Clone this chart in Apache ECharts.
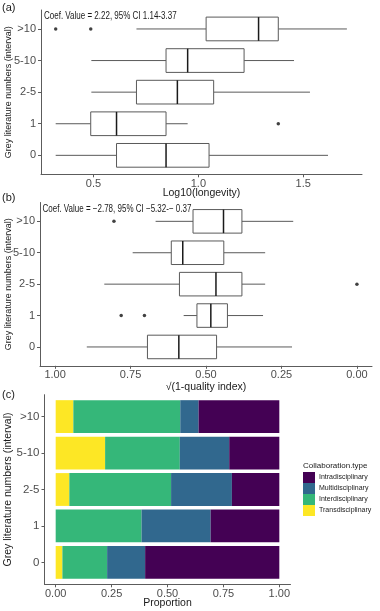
<!DOCTYPE html>
<html>
<head>
<meta charset="utf-8">
<script src="https://cdn.jsdelivr.net/npm/echarts@6/dist/echarts.min.js"></script>
<style>
  html, body { margin: 0; padding: 0; background: #fff; }
  #chart { width: 380px; height: 611px; }
</style>
</head>
<body>
<div id="chart"></div>
<script>
// grey literature groups, bottom to top
const groups = ['0', '1', '2-5', '5-10', '>10'];

// (a) Log10(longevity): [min, Q1, median, Q3, max] per group
const longevityBox = [
  [0.32, 0.61, 0.846, 1.051, 1.618],
  [0.32, 0.487, 0.61, 0.846, 0.949],
  [0.49, 0.705, 0.90, 1.073, 1.532],
  [0.49, 0.846, 0.949, 1.218, 1.456],
  [0.705, 1.037, 1.287, 1.381, 1.708]
];
// [value, group index]
const longevityOutliers = [[1.381, 1], [0.32, 4], [0.487, 4]];
const longevityTicks = [0.5, 1.0, 1.5];

// (b) sqrt(1 - quality index)
const qualityBox = [
  [0.215, 0.465, 0.59, 0.694, 0.895],
  [0.311, 0.429, 0.484, 0.53, 0.574],
  [0.304, 0.381, 0.467, 0.588, 0.837],
  [0.304, 0.441, 0.577, 0.615, 0.743],
  [0.211, 0.381, 0.442, 0.543, 0.667]
];
const qualityOutliers = [[0.704, 1], [0.781, 1], [0.0, 2], [0.805, 4]];
const qualityTicks = [0, 0.25, 0.5, 0.75, 1];

// (c) share of collaboration types, stacked from the left
const collabTypes = ['Transdisciplinary', 'Interdisciplinary', 'Multidisciplinary', 'Intradisciplinary'];
const transProp = [0.03, 0, 0.061, 0.221, 0.079];
const interProp = [0.20, 0.384, 0.455, 0.334, 0.478];
const multiProp = [0.17, 0.309, 0.272, 0.221, 0.082];
const intraProp = [0.60, 0.307, 0.212, 0.224, 0.361];
const proportionTicks = [0, 0.25, 0.5, 0.75, 1];

const collabColors = {
  Transdisciplinary: '#FDE725',
  Interdisciplinary: '#35B779',
  Multidisciplinary: '#31688E',
  Intradisciplinary: '#440154'
};

const FONT = "'Liberation Sans', Arial, sans-serif";
const AXIS_COLOR = '#5c5c5c';
const groupTicks = groups.map((g, i) => i);

// --- box drawing (ggplot style, no whisker caps) ---
const boxRender = (params, api) => {
  const g = api.value(0);
  const pMin = api.coord([api.value(1), g]);
  const pQ1 = api.coord([api.value(2), g]);
  const pMed = api.coord([api.value(3), g]);
  const pQ3 = api.coord([api.value(4), g]);
  const pMax = api.coord([api.value(5), g]);
  const half = api.size([0, 0.75])[1] / 2;
  const y = pMed[1];
  const lineStyle = { stroke: '#5a5a5a', lineWidth: 1 };
  return {
    type: 'group',
    children: [
      { type: 'line', shape: { x1: pMin[0], y1: y, x2: pQ1[0], y2: y }, style: lineStyle },
      { type: 'line', shape: { x1: pQ3[0], y1: y, x2: pMax[0], y2: y }, style: lineStyle },
      {
        type: 'rect',
        shape: { x: Math.min(pQ1[0], pQ3[0]), y: y - half, width: Math.abs(pQ3[0] - pQ1[0]), height: half * 2 },
        style: { fill: '#fff', stroke: '#5a5a5a', lineWidth: 1 }
      },
      { type: 'line', shape: { x1: pMed[0], y1: y - half, x2: pMed[0], y2: y + half }, style: { stroke: '#1a1a1a', lineWidth: 1.5 } }
    ]
  };
};

const barRender = (params, api) => {
  const g = api.value(0);
  const start = api.coord([api.value(1), g]);
  const end = api.coord([api.value(2), g]);
  const half = api.size([0, 0.9])[1] / 2;
  return {
    type: 'rect',
    shape: { x: start[0], y: start[1] - half, width: end[0] - start[0], height: half * 2 },
    style: { fill: api.visual('color') }
  };
};

// --- axes ---
const groupAxis = (gridIndex, nameGap, nameSize, labelSize) => ({
  type: 'value',
  gridIndex,
  min: -0.6,
  max: 4.6,
  name: 'Grey literature numbers (interval)',
  nameLocation: 'middle',
  nameRotate: 90,
  nameGap,
  nameMoveOverlap: false,
  nameTextStyle: { fontFamily: FONT, fontSize: nameSize, color: '#1a1a1a' },
  axisLine: { show: true, onZero: false, lineStyle: { color: AXIS_COLOR, width: 1 } },
  axisTick: { show: true, length: 3, customValues: groupTicks, lineStyle: { color: AXIS_COLOR } },
  axisLabel: {
    customValues: groupTicks,
    formatter: v => groups[Math.round(v)],
    margin: 5,
    fontFamily: FONT,
    fontSize: labelSize,
    color: '#4d4d4d'
  },
  splitLine: { show: false }
});

const valueAxis = (gridIndex, opts) => ({
  type: 'value',
  gridIndex,
  min: opts.min,
  max: opts.max,
  inverse: !!opts.inverse,
  name: opts.name,
  nameLocation: 'middle',
  nameGap: opts.nameGap,
  nameMoveOverlap: false,
  nameTextStyle: { fontFamily: FONT, fontSize: 10.5, color: '#1a1a1a' },
  axisLine: { show: true, onZero: false, lineStyle: { color: AXIS_COLOR, width: 1 } },
  axisTick: { show: true, length: 3, customValues: opts.ticks, lineStyle: { color: AXIS_COLOR } },
  axisLabel: {
    customValues: opts.ticks,
    formatter: v => v.toFixed(opts.digits),
    margin: 4,
    fontFamily: FONT,
    fontSize: 11,
    color: '#4d4d4d'
  },
  splitLine: { show: false }
});

// --- stacked bar data ---
const propSeries = [transProp, interProp, multiProp, intraProp];
const cumulative = groups.map(() => 0);
const barSeries = collabTypes.map((name, k) => {
  const data = groups.map((g, i) => {
    const from = cumulative[i];
    cumulative[i] += propSeries[k][i];
    return [i, from, cumulative[i]];
  });
  return {
    name,
    type: 'custom',
    xAxisIndex: 2,
    yAxisIndex: 2,
    renderItem: barRender,
    itemStyle: { color: collabColors[name] },
    encode: { x: [1, 2], y: 0 },
    data
  };
});

const chart = echarts.init(document.getElementById('chart'), null, { renderer: 'canvas' });

// narrow annotation text, like the condensed font in the original
const coefText = (left, top, text) => ({
  type: 'text', left, top, scaleX: 0.8, originX: 0, originY: 0,
  style: { text, font: `10px ${FONT}`, fill: '#1a1a1a' }
});

const option = {
  animation: false,
  backgroundColor: '#fff',
  grid: [
    { left: 41, top: 10, width: 321, height: 164.3, outerBoundsMode: 'none' },
    { left: 40, top: 202.5, width: 332, height: 163.3, outerBoundsMode: 'none' },
    { left: 44.5, top: 394.7, width: 246, height: 189.6, outerBoundsMode: 'none' }
  ],
  xAxis: [
    valueAxis(0, { min: 0.25, max: 1.78, ticks: longevityTicks, digits: 1, name: 'Log10(longevity)', nameGap: 13 }),
    valueAxis(1, { min: -0.05, max: 1.05, inverse: true, ticks: qualityTicks, digits: 2, name: '\u221A(1-quality index)', nameGap: 16 }),
    valueAxis(2, { min: -0.05, max: 1.05, ticks: proportionTicks, digits: 2, name: 'Proportion', nameGap: 13 })
  ],
  yAxis: [
    groupAxis(0, 28, 9, 11),
    groupAxis(1, 27, 9, 11),
    groupAxis(2, 31, 10.5, 11.5)
  ],
  legend: {
    orient: 'vertical',
    left: 303,
    top: 472,
    itemWidth: 12,
    itemHeight: 11,
    itemGap: 0,
    icon: 'rect',
    padding: 0,
    data: ['Intradisciplinary', 'Multidisciplinary', 'Interdisciplinary', 'Transdisciplinary'],
    textStyle: { fontFamily: FONT, fontSize: 7, color: '#1a1a1a', padding: [0, 0, 0, -1] }
  },
  graphic: [
    { type: 'text', left: 2, top: 2, style: { text: '(a)', font: `11px ${FONT}`, fill: '#1a1a1a' } },
    { type: 'text', left: 2, top: 192, style: { text: '(b)', font: `11px ${FONT}`, fill: '#1a1a1a' } },
    { type: 'text', left: 2, top: 389, style: { text: '(c)', font: `11px ${FONT}`, fill: '#1a1a1a' } },
    coefText(44, 11, 'Coef. Value = 2.22, 95% CI 1.14-3.37'),
    coefText(42.5, 204, 'Coef. Value = \u22122.78, 95% CI \u22125.32-\u2212 0.37'),
    { type: 'text', left: 303, top: 461.5, style: { text: 'Collaboration.type', font: `8px ${FONT}`, fill: '#1a1a1a' } }
  ],
  series: [
    {
      type: 'custom',
      xAxisIndex: 0,
      yAxisIndex: 0,
      renderItem: boxRender,
      encode: { x: [1, 2, 3, 4, 5], y: 0 },
      data: longevityBox.map((b, i) => [i, ...b])
    },
    {
      type: 'scatter',
      xAxisIndex: 0,
      yAxisIndex: 0,
      symbolSize: 3.5,
      itemStyle: { color: '#111' },
      data: longevityOutliers
    },
    {
      type: 'custom',
      xAxisIndex: 1,
      yAxisIndex: 1,
      renderItem: boxRender,
      encode: { x: [1, 2, 3, 4, 5], y: 0 },
      data: qualityBox.map((b, i) => [i, ...b])
    },
    {
      type: 'scatter',
      xAxisIndex: 1,
      yAxisIndex: 1,
      symbolSize: 3.5,
      itemStyle: { color: '#111' },
      data: qualityOutliers
    },
    ...barSeries
  ]
};

chart.setOption(option);
</script>
</body>
</html>
